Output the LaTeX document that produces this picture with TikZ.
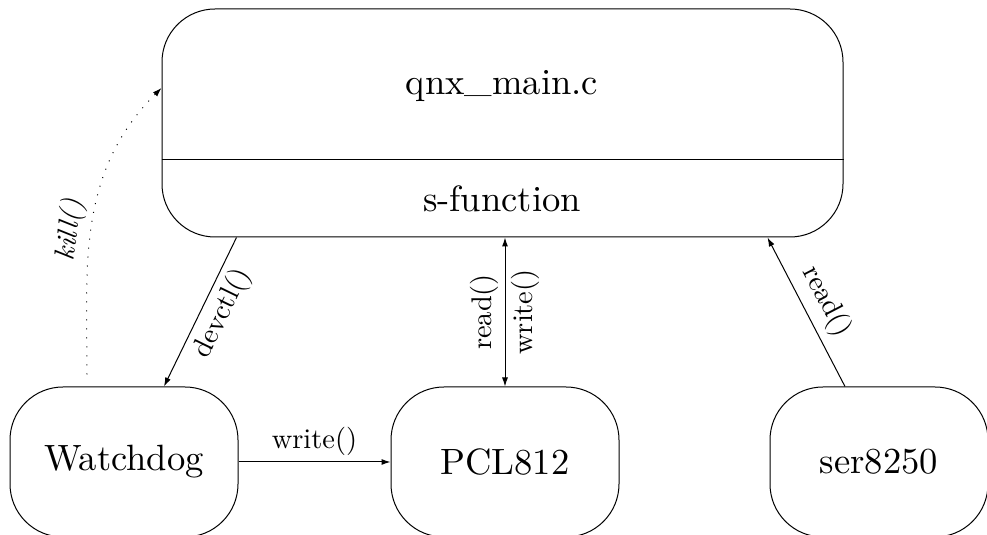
\documentclass[tikz,border=0pt]{standalone}
\usepackage{fontspec}
\setmainfont{lmroman10-regular.otf}[ItalicFont=lmroman10-italic.otf]
\usetikzlibrary{arrows.meta,positioning}
\tikzset{
  module/.style={
    rounded corners=26.5pt, draw, line width=0.5pt, inner sep=0pt,
    minimum width=114pt, minimum height=75pt,
    font=\fontsize{18.3}{22}\selectfont
  },
  mainbox/.style={module, minimum width=340.5pt, minimum height=114pt},
  title/.style={anchor=base, inner sep=0pt, font=\fontsize{18.3}{22}\selectfont},
  call/.style={font=\fontsize{14.2}{17}\selectfont, inner sep=3pt},
  flow/.style={-{Latex[length=4.5pt,width=3pt]}, line width=0.5pt},
  biflow/.style={{Latex[length=4.5pt,width=3pt]}-{Latex[length=4.5pt,width=3pt]}, line width=0.5pt},
  killflow/.style={-{Latex[length=4.5pt,width=3pt]}, line width=0.5pt, loosely dotted, shorten <=6pt}
}
\begin{document}
\begin{tikzpicture}
  \useasboundingbox (0,0) rectangle (493.5pt,267.5pt);
  % program with its s-function part
  \node[mainbox] (qnx) at (251.25pt,206pt) {};
  \coordinate (split) at (0,187.5pt);
  \draw[line width=0.5pt] (qnx.west |- split) -- (qnx.east |- split);
  \node[title] (qnxname) at (251pt,220pt) {qnx\raisebox{.1em}{\_}main.c};
  \node[title] (sfunc) at (251pt,161.5pt) {s-function};
  % drivers
  \node[module] (watchdog) at (62pt,36.5pt) {Watchdog};
  \node[module,right=76pt of watchdog] (pcl) {PCL812};
  \node[module,right=75pt of pcl,minimum width=109pt] (ser) {ser8250};
  % calls
  \draw[flow] ([xshift=37.5pt]qnx.south west) -- node[call,sloped,below,pos=0.45] {devctl()} ([xshift=20pt]watchdog.north);
  \draw[killflow] ([xshift=-18.5pt]watchdog.north) to[out=90,in=225] node[call,sloped,above,pos=0.47] {\textit{kill()}} ([yshift=17.5pt]qnx.west);
  \draw[biflow] (pcl.north) -- node[call,sloped,above] {read()} node[call,sloped,below] {write()} (pcl.north |- qnx.south);
  \draw[flow] (watchdog) -- node[call,above] {write()} (pcl);
  \draw[flow] ([xshift=-17pt]ser.north) -- node[call,sloped,above,inner sep=4pt] {read()} ([xshift=-38pt]qnx.south east);
\end{tikzpicture}
\end{document}
